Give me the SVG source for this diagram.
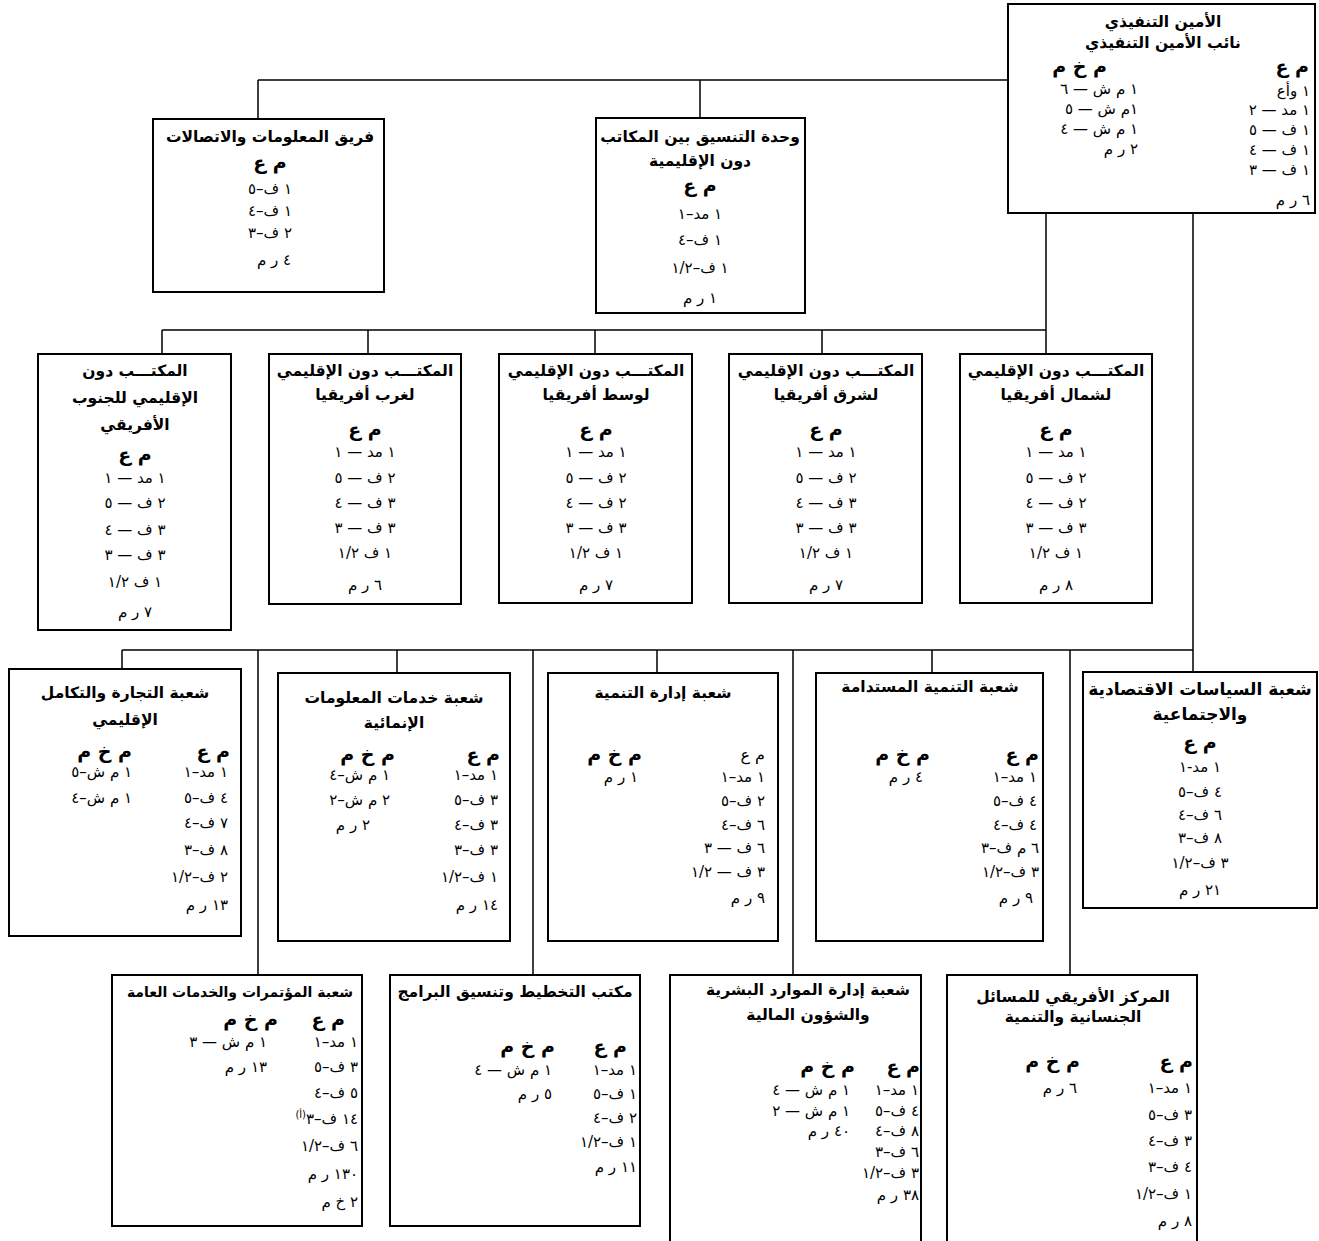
<svg xmlns="http://www.w3.org/2000/svg" width="1319" height="1241" viewBox="0 0 1319 1241">
<style>
.box{fill:#fff;stroke:#000;stroke-width:2}
.con{stroke:#000;stroke-width:1.5;fill:none}
text{font-family:"DejaVu Sans",sans-serif;fill:#000;direction:rtl}
.t{font-size:15.5px;font-weight:bold;text-anchor:middle}
.h{font-size:19px;font-weight:bold}
.hr{font-size:16px}
.b{font-size:15px}
.c{text-anchor:middle}
.r{text-anchor:start}
</style>
<rect width="1319" height="1241" fill="#fff"/>
<g id="connectors">
<path class="con" d="M258 80H1008M258 80V119M700 80V118"/>
<path class="con" d="M1046 213V354M162 330H1046M162 330V354M368 330V354M595 330V354M822 330V354"/>
<path class="con" d="M1193 213V650M122 650H1193M122 650V669M258 650V975M397 650V673M533 650V975M657 650V673M793 650V975M932 650V673M1070 650V975M1193 650V672"/>
</g>
<g id="exec">
<rect class="box" x="1008" y="4" width="307" height="209"/>
<text class="t" x="1163" y="27">الأمين التنفيذي</text>
<text class="t" x="1163" y="48">نائب الأمين التنفيذي</text>
<text class="h r" x="1107" y="73">م خ م</text>
<text class="h r" x="1309" y="73">م ع</text>
<text class="b r" x="1138" y="94">١ م ش — ٦</text>
<text class="b r" x="1138" y="114">١م ش — ٥</text>
<text class="b r" x="1138" y="134">١ م ش — ٤</text>
<text class="b r" x="1138" y="154">٢ ر م</text>
<text class="b r" x="1310" y="96">١ وأع</text>
<text class="b r" x="1310" y="115">١ مد — ٢</text>
<text class="b r" x="1310" y="135">١ ف — ٥</text>
<text class="b r" x="1310" y="155">١ ف — ٤</text>
<text class="b r" x="1310" y="175">١ ف — ٣</text>
<text class="b r" x="1310" y="205">٦ ر م</text>
</g>
<g id="ict">
<rect class="box" x="153" y="119" width="231" height="173"/>
<text class="t" x="270" y="142">فريق المعلومات والاتصالات</text>
<text class="h c" x="270" y="169">م ع</text>
<text class="b c" x="270" y="194">١ ف–٥</text>
<text class="b c" x="270" y="216">١ ف–٤</text>
<text class="b c" x="270" y="238">٢ ف–٣</text>
<text class="b c" x="274" y="265">٤ ر م</text>
</g>
<g id="coord">
<rect class="box" x="596" y="118" width="209" height="195"/>
<text class="t" x="700" y="142">وحدة التنسيق بين المكاتب</text>
<text class="t" x="700" y="166">دون الإقليمية</text>
<text class="h c" x="700" y="192">م ع</text>
<text class="b c" x="700" y="219">١ مد–١</text>
<text class="b c" x="700" y="245">١ ف–٤</text>
<text class="b c" x="700" y="273">١ ف–١/٢</text>
<text class="b c" x="700" y="303">١ ر م</text>
</g>
<g id="south">
<rect class="box" x="38" y="354" width="193" height="276"/>
<text class="t" x="135" y="376">المكتـــب دون</text>
<text class="t" x="135" y="403">الإقليمي للجنوب</text>
<text class="t" x="135" y="430">الأفريقي</text>
<text class="h c" x="135" y="461">م ع</text>
<text class="b c" x="135" y="483">١ مد — ١</text>
<text class="b c" x="135" y="508">٢ ف — ٥</text>
<text class="b c" x="135" y="535">٣ ف — ٤</text>
<text class="b c" x="135" y="560">٣ ف — ٣</text>
<text class="b c" x="135" y="587">١ ف ١/٢</text>
<text class="b c" x="135" y="617">٧ ر م</text>
</g>
<g id="west">
<rect class="box" x="269" y="354" width="192" height="250"/>
<text class="t" x="365" y="376">المكتـــب دون الإقليمي</text>
<text class="t" x="365" y="400">لغرب أفريقيا</text>
<text class="h c" x="365" y="436">م ع</text>
<text class="b c" x="365" y="457">١ مد — ١</text>
<text class="b c" x="365" y="483">٢ ف — ٥</text>
<text class="b c" x="365" y="508">٣ ف — ٤</text>
<text class="b c" x="365" y="533">٣ ف — ٣</text>
<text class="b c" x="365" y="558">١ ف ١/٢</text>
<text class="b c" x="365" y="590">٦ ر م</text>
</g>
<g id="central">
<rect class="box" x="499" y="354" width="193" height="249"/>
<text class="t" x="596" y="376">المكتـــب دون الإقليمي</text>
<text class="t" x="596" y="400">لوسط أفريقيا</text>
<text class="h c" x="596" y="436">م ع</text>
<text class="b c" x="596" y="457">١ مد — ١</text>
<text class="b c" x="596" y="483">٢ ف — ٥</text>
<text class="b c" x="596" y="508">٢ ف — ٤</text>
<text class="b c" x="596" y="533">٣ ف — ٣</text>
<text class="b c" x="596" y="558">١ ف ١/٢</text>
<text class="b c" x="596" y="590">٧ ر م</text>
</g>
<g id="east">
<rect class="box" x="729" y="354" width="193" height="249"/>
<text class="t" x="826" y="376">المكتـــب دون الإقليمي</text>
<text class="t" x="826" y="400">لشرق أفريقيا</text>
<text class="h c" x="826" y="436">م ع</text>
<text class="b c" x="826" y="457">١ مد — ١</text>
<text class="b c" x="826" y="483">٢ ف — ٥</text>
<text class="b c" x="826" y="508">٣ ف — ٤</text>
<text class="b c" x="826" y="533">٣ ف — ٣</text>
<text class="b c" x="826" y="558">١ ف ١/٢</text>
<text class="b c" x="826" y="590">٧ ر م</text>
</g>
<g id="north">
<rect class="box" x="960" y="354" width="192" height="249"/>
<text class="t" x="1056" y="376">المكتـــب دون الإقليمي</text>
<text class="t" x="1056" y="400">لشمال أفريقيا</text>
<text class="h c" x="1056" y="436">م ع</text>
<text class="b c" x="1056" y="457">١ مد — ١</text>
<text class="b c" x="1056" y="483">٢ ف — ٥</text>
<text class="b c" x="1056" y="508">٢ ف — ٤</text>
<text class="b c" x="1056" y="533">٣ ف — ٣</text>
<text class="b c" x="1056" y="558">١ ف ١/٢</text>
<text class="b c" x="1056" y="590">٨ ر م</text>
</g>
<g id="trade">
<rect class="box" x="9" y="669" width="232" height="267"/>
<text class="t" x="125" y="698">شعبة التجارة والتكامل</text>
<text class="t" x="125" y="725">الإقليمي</text>
<text class="h r" x="230" y="758">م ع</text>
<text class="h r" x="132" y="758">م خ م</text>
<text class="b r" x="228" y="777">١ مد–١</text>
<text class="b r" x="228" y="803">٤ ف–٥</text>
<text class="b r" x="228" y="828">٧ ف–٤</text>
<text class="b r" x="228" y="855">٨ ف–٣</text>
<text class="b r" x="228" y="882">٢ ف–١/٢</text>
<text class="b r" x="228" y="910">١٣ ر م</text>
<text class="b r" x="132" y="777">١ م ش–٥</text>
<text class="b r" x="132" y="803">١ م ش–٤</text>
</g>
<g id="info">
<rect class="box" x="278" y="673" width="232" height="268"/>
<text class="t" x="394" y="703">شعبة خدمات المعلومات</text>
<text class="t" x="394" y="728">الإنمائية</text>
<text class="h r" x="500" y="761">م ع</text>
<text class="h r" x="395" y="761">م خ م</text>
<text class="b r" x="498" y="780">١ مد–١</text>
<text class="b r" x="498" y="805">٣ ف–٥</text>
<text class="b r" x="498" y="830">٣ ف–٤</text>
<text class="b r" x="498" y="855">٣ ف–٣</text>
<text class="b r" x="498" y="882">١ ف–١/٢</text>
<text class="b r" x="498" y="910">١٤ ر م</text>
<text class="b r" x="390" y="780">١ م ش–٤</text>
<text class="b r" x="390" y="805">٢ م ش–٢</text>
<text class="b r" x="370" y="830">٢ ر م</text>
</g>
<g id="devmgmt">
<rect class="box" x="548" y="673" width="230" height="268"/>
<text class="t" x="663" y="698">شعبة إدارة التنمية</text>
<text class="hr r" x="765" y="760">م ع</text>
<text class="h r" x="642" y="761">م خ م</text>
<text class="b r" x="765" y="782">١ مد–١</text>
<text class="b r" x="765" y="806">٢ ف–٥</text>
<text class="b r" x="765" y="830">٦ ف–٤</text>
<text class="b r" x="765" y="853">٦ ف — ٣</text>
<text class="b r" x="765" y="877">٣ ف — ١/٢</text>
<text class="b r" x="765" y="903">٩ ر م</text>
<text class="b r" x="638" y="782">١ ر م</text>
</g>
<g id="sustainable">
<rect class="box" x="816" y="673" width="227" height="268"/>
<text class="t" x="930" y="692">شعبة التنمية المستدامة</text>
<text class="h r" x="1039" y="761">م ع</text>
<text class="h r" x="930" y="761">م خ م</text>
<text class="b r" x="1037" y="782">١ مد–١</text>
<text class="b r" x="1037" y="806">٤ ف–٥</text>
<text class="b r" x="1037" y="830">٤ ف–٤</text>
<text class="b r" x="1039" y="853">٦ م ف–٣</text>
<text class="b r" x="1039" y="877">٣ ف–١/٢</text>
<text class="b r" x="1033" y="903">٩ ر م</text>
<text class="b r" x="923" y="782">٤ ر م</text>
</g>
<g id="economic">
<rect class="box" x="1083" y="672" width="234" height="236"/>
<text class="t" x="1200" y="695" style="font-size:17px">شعبة السياسات الاقتصادية</text>
<text class="t" x="1200" y="720" style="font-size:17px">والاجتماعية</text>
<text class="h c" x="1200" y="749">م ع</text>
<text class="b c" x="1200" y="772">١ مد-١</text>
<text class="b c" x="1200" y="797">٤ ف–٥</text>
<text class="b c" x="1200" y="820">٦ ف–٤</text>
<text class="b c" x="1200" y="843">٨ ف–٣</text>
<text class="b c" x="1200" y="868">٣ ف–١/٢</text>
<text class="b c" x="1200" y="895">٢١ ر م</text>
</g>
<g id="conferences">
<rect class="box" x="112" y="975" width="250" height="251"/>
<text class="t" x="240" y="997" style="font-size:14px">شعبة المؤتمرات والخدمات العامة</text>
<text class="h r" x="345" y="1026">م ع</text>
<text class="h r" x="278" y="1026">م خ م</text>
<text class="b r" x="358" y="1047">١ مد–١</text>
<text class="b r" x="358" y="1072">٣ ف–٥</text>
<text class="b r" x="358" y="1098">٥ ف–٤</text>
<text class="b r" x="358" y="1124">١٤ ف–٣<tspan font-size="10" dy="-6">(أ)</tspan></text>
<text class="b r" x="358" y="1151">٦ ف–١/٢</text>
<text class="b r" x="358" y="1179">١٣٠ ر م</text>
<text class="b r" x="358" y="1207">٢ خ م</text>
<text class="b r" x="267" y="1047">١ م ش — ٣</text>
<text class="b r" x="267" y="1072">١٣ ر م</text>
</g>
<g id="planning">
<rect class="box" x="390" y="975" width="250" height="251"/>
<text class="t" x="515" y="997">مكتب التخطيط وتنسيق البرامج</text>
<text class="h r" x="627" y="1053">م ع</text>
<text class="h r" x="555" y="1053">م خ م</text>
<text class="b r" x="637" y="1075">١ مد–١</text>
<text class="b r" x="637" y="1099">١ ف–٥</text>
<text class="b r" x="637" y="1123">٢ ف–٤</text>
<text class="b r" x="637" y="1147">١ ف–١/٢</text>
<text class="b r" x="637" y="1172">١١ ر م</text>
<text class="b r" x="552" y="1075">١ م ش — ٤</text>
<text class="b r" x="552" y="1099">٥ ر م</text>
</g>
<g id="hrfin">
<rect class="box" x="670" y="975" width="251" height="290"/>
<text class="t" x="808" y="995">شعبة إدارة الموارد البشرية</text>
<text class="t" x="808" y="1020">والشؤون المالية</text>
<text class="h r" x="920" y="1073">م ع</text>
<text class="h r" x="855" y="1073">م خ م</text>
<text class="b r" x="919" y="1095">١ مد–١</text>
<text class="b r" x="919" y="1116">٤ ف–٥</text>
<text class="b r" x="919" y="1136">٨ ف–٤</text>
<text class="b r" x="919" y="1157">٦ ف–٣</text>
<text class="b r" x="919" y="1178">٣ ف–١/٢</text>
<text class="b r" x="919" y="1200">٣٨ ر م</text>
<text class="b r" x="850" y="1095">١ م ش — ٤</text>
<text class="b r" x="850" y="1116">١ م ش — ٢</text>
<text class="b r" x="850" y="1136">٤٠ ر م</text>
</g>
<g id="gender">
<rect class="box" x="947" y="975" width="250" height="290"/>
<text class="t" x="1073" y="1002">المركز الأفريقي للمسائل</text>
<text class="t" x="1073" y="1022">الجنسانية والتنمية</text>
<text class="h r" x="1193" y="1068">م ع</text>
<text class="h r" x="1080" y="1068">م خ م</text>
<text class="b r" x="1192" y="1093">١ مد–١</text>
<text class="b r" x="1192" y="1120">٣ ف–٥</text>
<text class="b r" x="1192" y="1146">٣ ف–٤</text>
<text class="b r" x="1192" y="1172">٤ ف–٣</text>
<text class="b r" x="1192" y="1199">١ ف–١/٢</text>
<text class="b r" x="1192" y="1226">٨ ر م</text>
<text class="b r" x="1077" y="1093">٦ ر م</text>
</g>
</svg>
